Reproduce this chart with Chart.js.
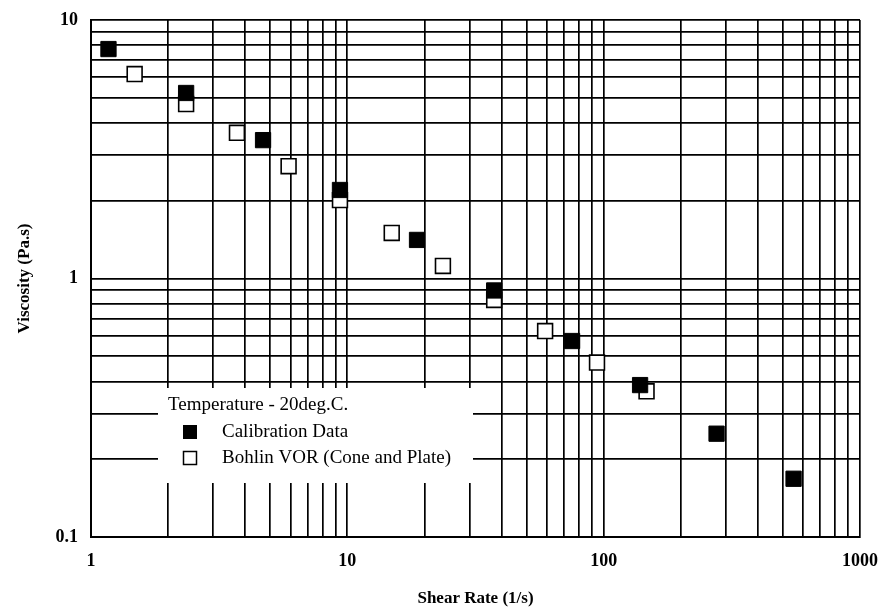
<!DOCTYPE html>
<html>
<head>
<meta charset="utf-8">
<script src="https://cdn.jsdelivr.net/npm/chart.js@4.4.1/dist/chart.umd.min.js"></script>
<style>
  html, body { margin: 0; padding: 0; background: #fff; }
  #wrap { width: 884px; height: 613px; }
</style>
</head>
<body>
<div id="wrap"><canvas id="chart" width="884" height="613"></canvas></div>
<script>
// shear rate (1/s) and viscosity (Pa.s)
const calX = [1.17, 2.35, 4.69, 9.36, 18.7, 37.4, 75.3, 138.7, 275.7, 550.6];
const calY = [7.72, 5.22, 3.43, 2.20, 1.41, 0.899, 0.573, 0.387, 0.251, 0.168];
const vorX = [1.48, 2.35, 3.71, 5.90, 9.36, 14.9, 23.6, 37.4, 59.1, 94.2, 147];
const vorY = [6.18, 4.73, 3.66, 2.72, 2.01, 1.50, 1.118, 0.826, 0.626, 0.473, 0.366];

const seriesNames = ['Calibration Data', 'Bohlin VOR (Cone and Plate)'];
const legendTitle = 'Temperature - 20deg.C.';

// grid lines at every 1..9 step of each decade
const xGrid = [1, 2, 3, 4, 5, 6, 7, 8, 9, 10, 20, 30, 40, 50, 60, 70, 80, 90,
               100, 200, 300, 400, 500, 600, 700, 800, 900, 1000];
const yGrid = [0.1, 0.2, 0.3, 0.4, 0.5, 0.6, 0.7, 0.8, 0.9,
               1, 2, 3, 4, 5, 6, 7, 8, 9, 10];
const xLabels = [1, 10, 100, 1000];
const yLabels = [0.1, 1, 10];

const serif = '"Liberation Serif", "Times New Roman", serif';

function toPoints(xs, ys) {
    return xs.map((x, i) => ({x: x, y: ys[i]}));
}

const legendBox = {
    id: 'legendBox',
    beforeDatasetsDraw(chart) {
        const ctx = chart.ctx;
        ctx.save();
        ctx.fillStyle = '#fff';
        ctx.fillRect(158, 388, 315, 95);

        ctx.fillStyle = '#000';
        ctx.font = '19px ' + serif;
        ctx.textBaseline = 'middle';
        ctx.fillText(legendTitle, 168, 405);
        ctx.fillText(seriesNames[0], 222, 432);
        ctx.fillText(seriesNames[1], 222, 458);

        ctx.fillRect(183, 425, 14, 14);
        ctx.fillStyle = '#fff';
        ctx.fillRect(183, 451, 14, 14);
        ctx.strokeStyle = '#000';
        ctx.lineWidth = 1.5;
        ctx.strokeRect(183.5, 451.5, 13, 13);
        ctx.restore();
    }
};

const config = {
    type: 'scatter',
    data: {
        datasets: [{
            label: seriesNames[0],
            data: toPoints(calX, calY),
            pointStyle: 'rect',
            pointRadius: 10.8,
            backgroundColor: '#000',
            borderColor: '#000',
            borderWidth: 1
        }, {
            label: seriesNames[1],
            data: toPoints(vorX, vorY),
            pointStyle: 'rect',
            pointRadius: 10.5,
            backgroundColor: '#fff',
            borderColor: '#000',
            borderWidth: 1.6
        }]
    },
    options: {
        responsive: false,
        animation: false,
        layout: { padding: { top: 20, right: 24, left: 0, bottom: 0 } },
        plugins: {
            legend: { display: false },
            tooltip: { enabled: false }
        },
        scales: {
            x: {
                type: 'logarithmic',
                min: 1,
                max: 1000,
                afterBuildTicks: (axis) => { axis.ticks = xGrid.map(v => ({value: v})); },
                afterFit: (axis) => {
                    axis.height = 76;
                    axis.paddingLeft = 0;
                    axis.paddingRight = 0;
                },
                grid: { color: '#000', lineWidth: 1.7, drawTicks: false },
                border: { color: '#000', width: 2 },
                ticks: {
                    autoSkip: false,
                    maxRotation: 0,
                    padding: 14,
                    color: '#000',
                    font: { family: serif, size: 18, weight: 'bold' },
                    callback: (v) => xLabels.includes(v) ? String(v) : ''
                },
                title: {
                    display: true,
                    text: 'Shear Rate (1/s)',
                    color: '#000',
                    font: { family: serif, size: 17, weight: 'bold' },
                    padding: { top: 0, bottom: 4 }
                }
            },
            y: {
                type: 'logarithmic',
                min: 0.1,
                max: 10,
                afterBuildTicks: (axis) => { axis.ticks = yGrid.map(v => ({value: v})); },
                afterFit: (axis) => {
                    axis.width = 91;
                    axis.paddingTop = 0;
                    axis.paddingBottom = 0;
                },
                grid: { color: '#000', lineWidth: 1.7, drawTicks: false },
                border: { color: '#000', width: 2 },
                ticks: {
                    autoSkip: false,
                    padding: 13,
                    color: '#000',
                    font: { family: serif, size: 18, weight: 'bold' },
                    callback: (v) => yLabels.includes(v) ? String(v) : ''
                },
                title: {
                    display: true,
                    text: 'Viscosity (Pa.s)',
                    color: '#000',
                    font: { family: serif, size: 17, weight: 'bold' },
                    padding: { top: 14, bottom: 0 }
                }
            }
        }
    },
    plugins: [legendBox]
};

new Chart(document.getElementById('chart'), config);
</script>
</body>
</html>
